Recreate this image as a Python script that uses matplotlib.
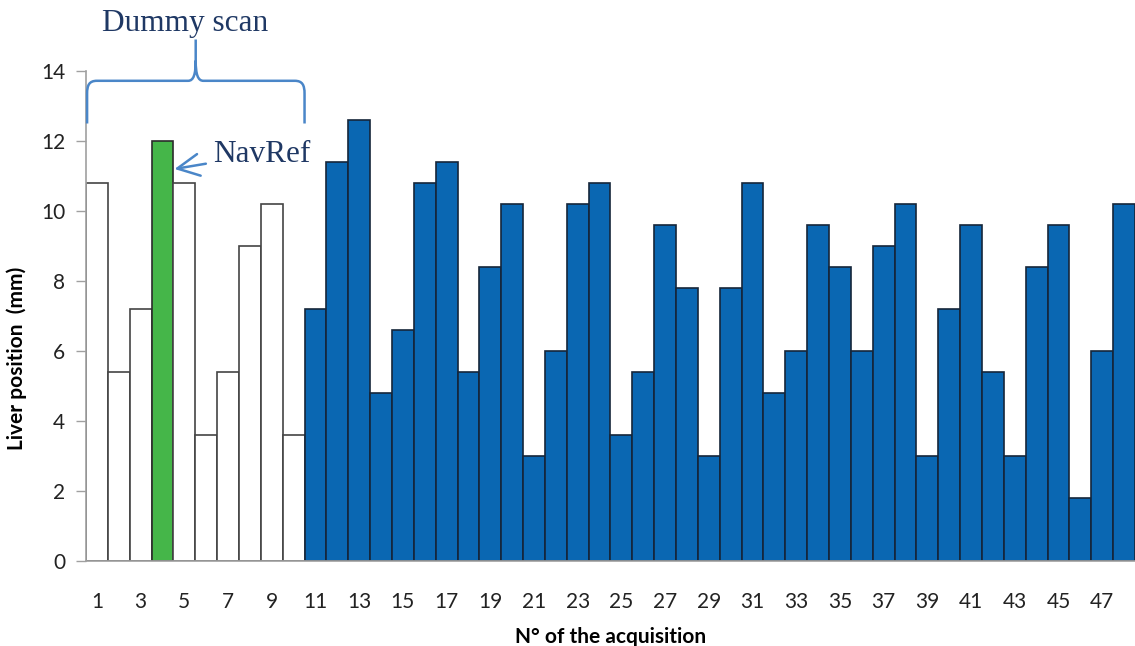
import matplotlib
matplotlib.use("Agg")
import matplotlib.pyplot as plt
from matplotlib.path import Path
from matplotlib.patches import PathPatch

# Liver position per acquisition (mm)
acquisitions = list(range(1, 49))
liver_position = [10.8, 5.4, 7.2, 12.0, 10.8, 3.6, 5.4, 9.0, 10.2, 3.6,
                  7.2, 11.4, 12.6, 4.8, 6.6, 10.8, 11.4, 5.4, 8.4, 10.2,
                  3.0, 6.0, 10.2, 10.8, 3.6, 5.4, 9.6, 7.8, 3.0, 7.8,
                  10.8, 4.8, 6.0, 9.6, 8.4, 6.0, 9.0, 10.2, 3.0, 7.2,
                  9.6, 5.4, 3.0, 8.4, 9.6, 1.8, 6.0, 10.2]
n_dummy = 10
navref_index = 4
x_ticks = list(range(1, 49, 2))
y_ticks = list(range(0, 15, 2))

BLUE = "#0A67B2"
GREEN = "#45B649"
ANNOT = "#4A86C8"
NAVY = "#1F3864"
SERIF = ["Liberation Serif", "DejaVu Serif"]

plt.rcParams["font.family"] = ["Lato", "DejaVu Sans"]

fig = plt.figure(figsize=(11.35, 6.46), dpi=100)
ax = fig.add_axes([86 / 1135, 85 / 646, 1 - 86 / 1135, (561 - 71) / 646])

face, edge = [], []
for a in acquisitions:
    if a == navref_index:
        face.append(GREEN); edge.append("#2b2b2b")
    elif a <= n_dummy:
        face.append("white"); edge.append("#444444")
    else:
        face.append(BLUE); edge.append("#15263a")

ax.bar(acquisitions, liver_position, width=1.0, color=face,
       edgecolor=edge, linewidth=1.2, zorder=2)

ax.set_xlim(0.5, 48.5)
ax.set_ylim(0, 14)
ax.set_xticks(x_ticks)
ax.set_yticks(y_ticks)
ax.tick_params(axis="x", length=0, pad=22, labelsize=15, colors="#222222")
ax.tick_params(axis="y", length=7, width=1, color="#A0A0A0", pad=8,
               labelsize=15, labelcolor="#222222")
for s in ("top", "right"):
    ax.spines[s].set_visible(False)
for s in ("left", "bottom"):
    ax.spines[s].set_color("#A0A0A0")
    ax.spines[s].set_linewidth(1.2)

ax.set_xlabel("N° of the acquisition", fontsize=15, fontweight="bold")
ax.set_ylabel("Liver position  (mm)", fontsize=15, fontweight="bold")
ax.xaxis.set_label_coords(0.5, -0.135)
ax.yaxis.set_label_coords(-0.056, 0.414)

# Curly brace spanning the dummy-scan acquisitions
xl, xr, xc = 0.55, 10.5, 5.52
yb, yh, yc, yt = 12.5, 13.72, 14.3, 14.9
dx = 0.45
verts = [
    (xl, yb), (xl, 13.35),
    (xl, 13.6), (xl + 0.1, yh), (xl + dx, yh),
    (xc - 0.35, yh),
    (xc - 0.1, yh), (xc, 13.9), (xc, yc),
    (xc, yt),
    (xc, yc),
    (xc, 13.9), (xc + 0.1, yh), (xc + 0.35, yh),
    (xr - dx, yh),
    (xr - 0.1, yh), (xr, 13.6), (xr, 13.35),
    (xr, yb),
]
codes = [Path.MOVETO, Path.LINETO,
         Path.CURVE4, Path.CURVE4, Path.CURVE4,
         Path.LINETO,
         Path.CURVE4, Path.CURVE4, Path.CURVE4,
         Path.LINETO,
         Path.MOVETO,
         Path.CURVE4, Path.CURVE4, Path.CURVE4,
         Path.LINETO,
         Path.CURVE4, Path.CURVE4, Path.CURVE4,
         Path.LINETO]
ax.add_patch(PathPatch(Path(verts, codes), fill=False, edgecolor=ANNOT,
                       linewidth=1.8, clip_on=False, zorder=3))

ax.text(5.03, 15.37, "Dummy scan", ha="center", va="center",
        fontsize=22.5, color=NAVY, family=SERIF)

# NavRef pointer to the reference acquisition
ax.annotate("NavRef", xy=(navref_index + 0.55, 11.2), xytext=(6.3, 11.62),
            fontsize=22.5, color=NAVY, family=SERIF,
            va="center", ha="left",
            arrowprops=dict(arrowstyle="->,head_length=0.7,head_width=0.35",
                            color=ANNOT, lw=1.8, shrinkA=3, shrinkB=0))

fig.savefig("out.png", dpi=100)
